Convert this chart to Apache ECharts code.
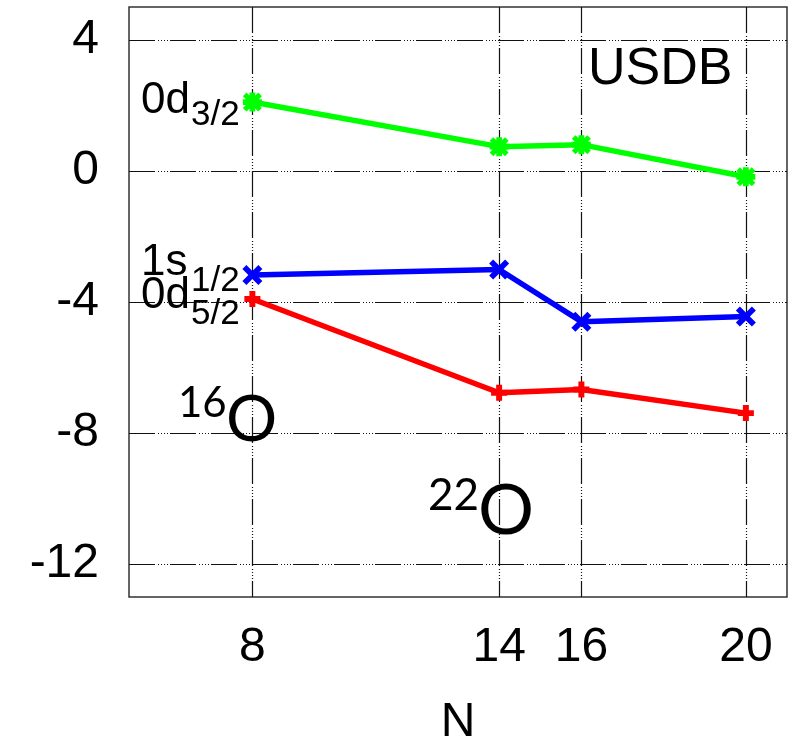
<!DOCTYPE html>
<html>
<head>
<meta charset="utf-8">
<script src="https://cdn.jsdelivr.net/npm/echarts@6/dist/echarts.min.js"></script>
<style>
  html, body { margin: 0; padding: 0; background: #fff; }
  #chart { width: 798px; height: 744px; }
</style>
</head>
<body>
<div id="chart"></div>
<script>
// Neutron number N for each oxygen isotope
const nValues = [8, 14, 16, 20];
// Effective single-particle energies (MeV), USDB interaction
const d32 = [2.10, 0.74, 0.80, -0.18];
const s12 = [-3.18, -3.01, -4.60, -4.44];
const d52 = [-3.91, -6.77, -6.67, -7.39];
// Tick positions
const xTicks = [8, 14, 16, 20];
const yTicks = [-12, -8, -4, 0, 4];

const pairs = vals => nValues.map((n, i) => [n, vals[i]]);

// gnuplot-style markers
const plusPath = 'path://M-2.6,-7H2.6V-2.6H7V2.6H2.6V7H-2.6V2.6H-7V-2.6H-2.6Z';
const crossPath = 'path://M-5,-3L-3,-5L0,-2L3,-5L5,-3L2,0L5,3L3,5L0,2L-3,5L-5,3L-2,0Z';
const starPath = 'path://M-1.5,-5H1.5V-1.5H5V1.5H1.5V5H-1.5V1.5H-5V-1.5H-1.5Z' +
                 'M-5,-3.1L-3.1,-5L0,-1.9L3.1,-5L5,-3.1L1.9,0L5,3.1L3.1,5L0,1.9L-3.1,5L-5,3.1L-1.9,0Z';

const FONT = '"Liberation Sans", Arial, sans-serif';
const SERIF_FREE = 'Lato, "Open Sans", sans-serif';
const gridDash = [26, 3, 1, 2, 1, 2, 1, 2, 1, 2];

const chart = echarts.init(document.getElementById('chart'), null, { renderer: 'canvas' });

function txt(text, x, y, size, family) {
  return {
    type: 'text', x: x, y: y, z: 100,
    style: {
      text: text, fill: '#000', fontSize: size,
      fontFamily: family || FONT, align: 'left', verticalAlign: 'middle'
    }
  };
}

const option = {
  animation: false,
  backgroundColor: '#fff',
  grid: {
    left: 129, top: 7, right: 11, bottom: 147,
    outerBoundsMode: 'none', containLabel: false,
    show: true, borderColor: '#333', borderWidth: 1.5, backgroundColor: 'transparent'
  },
  xAxis: {
    type: 'value', min: 5, max: 21,
    name: 'N', nameLocation: 'middle', nameGap: 102,
    nameTextStyle: { fontSize: 48, fontFamily: FONT, color: '#000' },
    axisLine: { show: false },
    axisTick: { show: false, customValues: xTicks },
    axisLabel: { customValues: xTicks, fontSize: 48, fontFamily: FONT, color: '#000', margin: 27 },
    splitLine: { show: true, lineStyle: { color: '#111', width: 1.2, type: gridDash } }
  },
  yAxis: {
    type: 'value', min: -13, max: 5,
    axisLine: { show: false },
    axisTick: { show: false, customValues: yTicks },
    axisLabel: { customValues: yTicks, fontSize: 48, fontFamily: FONT, color: '#000', margin: 30 },
    splitLine: { show: true, lineStyle: { color: '#111', width: 1.2, type: gridDash } }
  },
  series: [
    {
      name: '0d5/2', type: 'line', data: pairs(d52),
      symbol: plusPath, symbolSize: 16, showAllSymbol: true,
      lineStyle: { color: '#ff0000', width: 5.5 },
      itemStyle: { color: '#ff0000' }
    },
    {
      name: '1s1/2', type: 'line', data: pairs(s12),
      symbol: crossPath, symbolSize: 20, showAllSymbol: true,
      lineStyle: { color: '#0000ff', width: 5.5 },
      itemStyle: { color: '#0000ff' }
    },
    {
      name: '0d3/2', type: 'line', data: pairs(d32),
      symbol: starPath, symbolSize: 19, showAllSymbol: true,
      lineStyle: { color: '#00ff00', width: 5.5 },
      itemStyle: { color: '#00ff00' }
    }
  ],
  graphic: [
    txt('USDB', 588, 70, 52),
    txt('0d', 141, 101, 44),
    txt('3/2', 191, 115, 35),
    txt('1s', 141, 263, 44),
    txt('1/2', 191, 281, 35),
    txt('0d', 141, 296, 44),
    txt('5/2', 191, 314, 35),
    txt('16', 178, 403, 42, SERIF_FREE),
    txt('O', 226, 420, 64, SERIF_FREE),
    txt('22', 428, 496, 44, SERIF_FREE),
    txt('O', 478, 511, 70, SERIF_FREE)
  ]
};

chart.setOption(option);
</script>
</body>
</html>
